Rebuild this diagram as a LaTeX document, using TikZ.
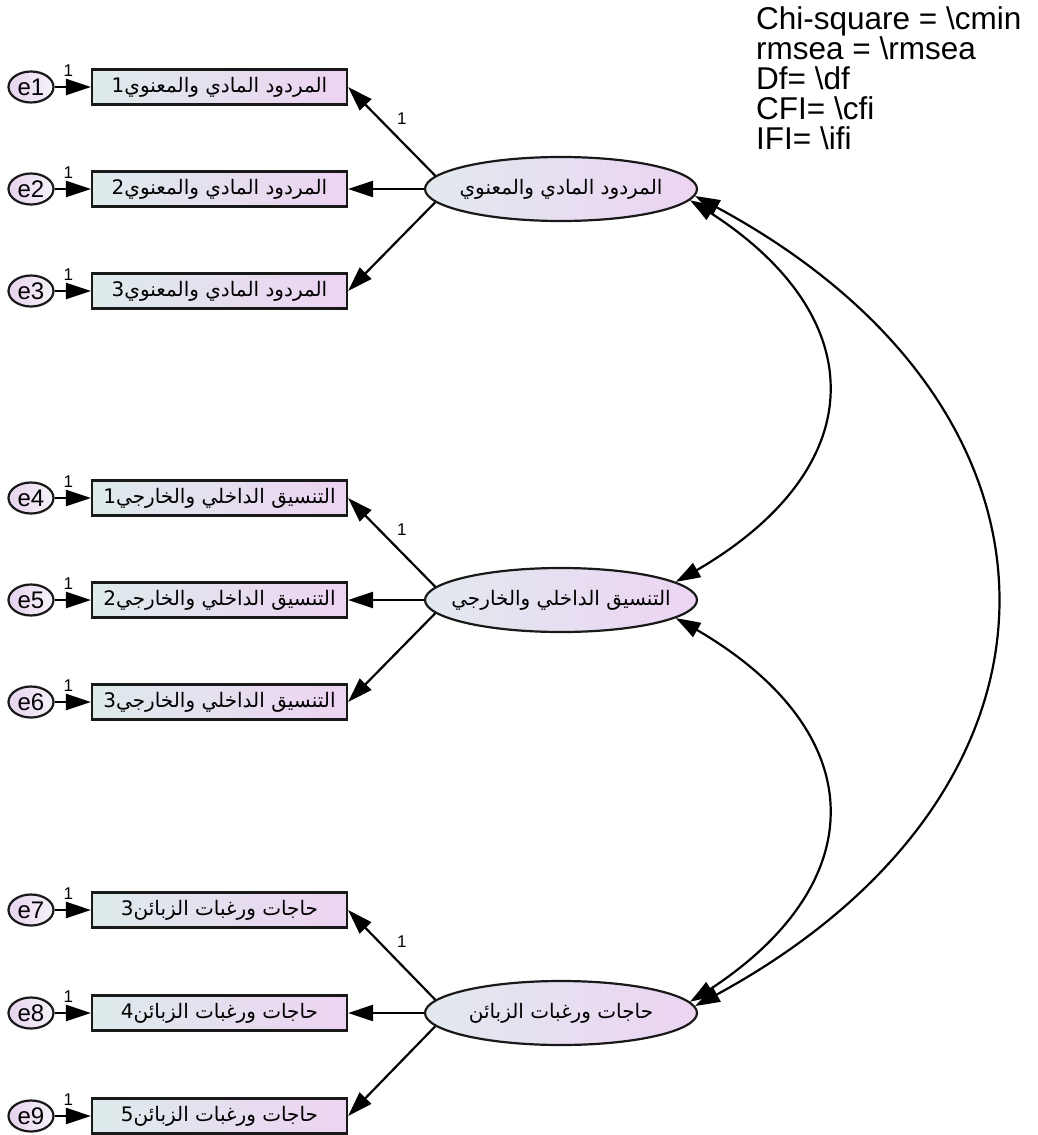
\documentclass[tikz,border=0pt]{standalone}
\usepackage{fontspec}
\setmainfont{Liberation Sans}
\newfontfamily\arabicfont[Script=Arabic]{DejaVu Sans}
\TeXXeTstate=1
\usetikzlibrary{arrows.meta,shapes.geometric,bending}

\definecolor{boxleft}{HTML}{DDEBEB}
\definecolor{boxright}{HTML}{EDD3F2}
\definecolor{latleft}{HTML}{E2E9EE}
\definecolor{latright}{HTML}{ECD4F3}
\definecolor{errleft}{HTML}{E6D2EE}
\definecolor{errright}{HTML}{F7F2F9}

% right-to-left label; the zero-width box keeps node sizes fixed by the styles
\newcommand\artxt[1]{\makebox[0pt]{\arabicfont\fontsize{20}{22}\selectfont\beginR #1\endR}}

\tikzset{
  ind/.style={rectangle, draw=black!90, line width=2.2pt, minimum width=255pt,
    minimum height=35pt, inner sep=0pt, left color=boxleft, right color=boxright},
  err/.style={ellipse, draw=black!90, line width=2.2pt, minimum width=45pt,
    minimum height=31pt, inner sep=0pt, left color=errleft, right color=errright,
    font=\fontsize{24}{24}\selectfont},
  lat/.style={ellipse, draw=black!90, line width=2.2pt, minimum width=272pt,
    minimum height=64pt, inner sep=0pt, left color=latleft, right color=latright},
  load/.style={line width=2.2pt, -{Triangle[length=25pt,width=16pt]}},
  cov/.style={line width=2.2pt, {Triangle[length=25pt,width=16pt,bend]}-{Triangle[length=25pt,width=16pt,bend]}},
  wt/.style={font=\fontsize{17}{17}\selectfont, inner sep=1pt},
}

\begin{document}
\begin{tikzpicture}[x=1pt,y=-1pt]
\useasboundingbox (0,0) rectangle (1037,1135);

% fit statistics
\node[anchor=north west, align=left, inner sep=0pt,
      font=\fontsize{31.5}{30}\selectfont] (stats) at (756,6)
  {Chi-square = \textbackslash cmin\\
   rmsea = \textbackslash rmsea\\
   Df= \textbackslash df\\
   CFI= \textbackslash cfi\\
   IFI= \textbackslash ifi};

% latent variables
\node[lat] (L1) at (561,189) {\artxt{المردود المادي والمعنوي}};
\node[lat] (L2) at (561,600) {\artxt{التنسيق الداخلي والخارجي}};
\node[lat] (L3) at (561,1013) {\artxt{حاجات ورغبات الزبائن}};

% observed indicators
\node[ind] (R1) at (219.5,87)  {\artxt{المردود المادي والمعنوي1}};
\node[ind] (R2) at (219.5,189) {\artxt{المردود المادي والمعنوي2}};
\node[ind] (R3) at (219.5,291) {\artxt{المردود المادي والمعنوي3}};
\node[ind] (R4) at (219.5,498) {\artxt{التنسيق الداخلي والخارجي1}};
\node[ind] (R5) at (219.5,600) {\artxt{التنسيق الداخلي والخارجي2}};
\node[ind] (R6) at (219.5,702) {\artxt{التنسيق الداخلي والخارجي3}};
\node[ind] (R7) at (219.5,910) {\artxt{حاجات ورغبات الزبائن3}};
\node[ind] (R8) at (219.5,1013) {\artxt{حاجات ورغبات الزبائن4}};
\node[ind] (R9) at (219.5,1116) {\artxt{حاجات ورغبات الزبائن5}};

% error terms
\foreach \i/\y in {1/87,2/189,3/291,4/498,5/600,6/702,7/910,8/1013,9/1116}{
  \node[err] (E\i) at (31,\y) {e\i};
  \draw[load] (E\i) -- (R\i) node[wt, pos=0.38, above=8pt] {1};
}

% factor loadings
\foreach \k/\a/\b/\c in {1/R1/R2/R3, 2/R4/R5/R6, 3/R7/R8/R9}{
  \draw[load] (L\k.174) -- (\a.east)
    node[wt, pos=0.6, anchor=west, xshift=12pt, yshift=4pt] {1};
  \draw[load] (L\k.180) -- (\b.east);
  \draw[load] (L\k.186) -- (\c.east);
}

% covariances between the factors
\draw[cov] (L1.-5) .. controls (880,310) and (880,475) .. (L2.9);
\draw[cov] (L2.-9) .. controls (880,725) and (880,890) .. (L3.5);
\draw[cov] (L1.-3) .. controls (1101,400) and (1101,800) .. (L3.3);
\end{tikzpicture}
\end{document}
